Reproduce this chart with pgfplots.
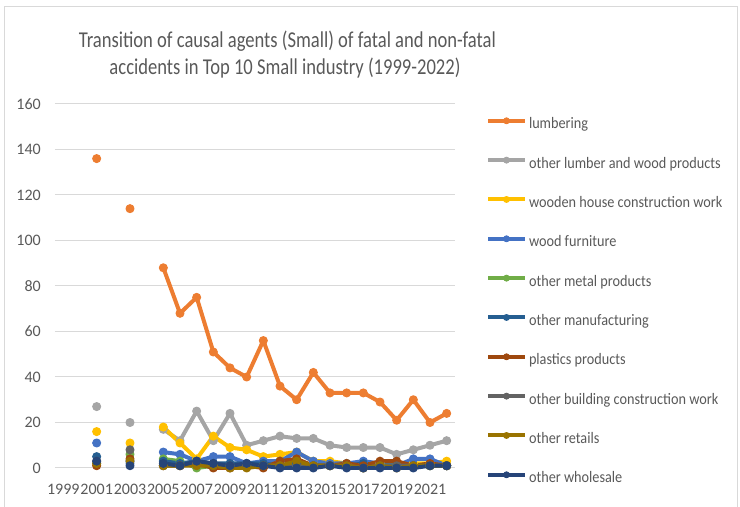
\documentclass[border=0pt]{standalone}
\usepackage{fontspec}
\setmainfont{Carlito}
\newfontfamily\titlefont{Carlito}[FakeStretch=0.82]
\newfontfamily\legfont{Carlito}[FakeStretch=0.89]
\usepackage{pgfplots}
\usepackage{pgfplotstable}
\pgfplotsset{compat=1.18}
\definecolor{c1}{HTML}{ED7D31}
\definecolor{c2}{HTML}{A5A5A5}
\definecolor{c3}{HTML}{FFC000}
\definecolor{c4}{HTML}{4472C4}
\definecolor{c5}{HTML}{70AD47}
\definecolor{c6}{HTML}{255E91}
\definecolor{c7}{HTML}{9E480E}
\definecolor{c8}{HTML}{636363}
\definecolor{c9}{HTML}{997300}
\definecolor{c10}{HTML}{264478}
\definecolor{txt}{HTML}{595959}
\definecolor{grd}{HTML}{D9D9D9}
\pgfplotstableread{
year lum olw wh wf om oman pl ob ore ow
2001 136 27 16 11 2 5 1 3 2 3
2002 nan nan nan nan nan nan nan nan nan nan
2003 114 20 11 2 6 3 4 8 3 1
2004 nan nan nan nan nan nan nan nan nan nan
2005 88 17 18 7 4 3 1 1 1 2
2006 68 12 11 6 3 2 1 1 1 1
2007 75 25 4 3 0 3 2 2 1 3
2008 51 12 14 5 1 2 0 1 1 2
2009 44 24 9 5 1 2 0 1 0 1
2010 40 10 8 2 1 2 1 1 0 2
2011 56 12 5 3 1 2 0 1 1 1
2012 36 14 6 3 1 1 3 1 1 0
2013 30 13 7 7 1 2 4 1 3 0
2014 42 13 3 3 1 1 1 1 1 0
2015 33 10 3 2 1 1 1 1 1 1
2016 33 9 2 2 1 1 2 1 1 0
2017 33 9 2 3 1 2 1 0 0 0
2018 29 9 2 2 1 1 3 1 1 0
2019 21 6 1 1 1 1 3 1 0 0
2020 30 8 2 4 1 1 1 1 1 0
2021 20 10 2 4 1 1 2 1 1 1
2022 24 12 3 1 1 1 1 1 1 1
}\data
\begin{document}
\begin{tikzpicture}
\useasboundingbox (0,0) rectangle (555pt,380.25pt);
\draw[grd, line width=0.75pt] (3pt,-20pt) rectangle (552.75pt,375pt);
\node[anchor=base, text=txt, font=\titlefont\fontsize{17}{20}\selectfont, inner sep=0pt] at (215.6pt,344.25pt) {Transition of causal agents (Small) of fatal and non-fatal};
\node[anchor=base, text=txt, font=\titlefont\fontsize{17}{20}\selectfont, inner sep=0pt] at (213.75pt,324pt) {accidents in Top 10 Small industry (1999-2022)};
\begin{axis}[
  at={(41.25pt,29.25pt)}, anchor=south west,
  scale only axis, width=300pt, height=273pt,
  xmin=1998.5, xmax=2022.5, ymin=0, ymax=160,
  xtick={1999,2001,2003,2005,2007,2009,2011,2013,2015,2017,2019,2021},
  xticklabels={1999,2001,2003,2005,2007,2009,2011,2013,2015,2017,2019,2021},
  ytick={0,20,40,60,80,100,120,140,160},
  /pgf/number format/assume math mode=true,
  axis line style={draw=none},
  major tick length=0pt,
  ymajorgrids, grid style={grd, line width=0.75pt},
  yticklabel style={font=\fontsize{12}{14}\selectfont, text=txt, anchor=east, inner sep=0pt, xshift=-10.5pt},
  xticklabel style={font=\fontsize{12}{14}\selectfont, text=txt, anchor=north, inner sep=0pt, yshift=-12pt},
  clip=false,
  unbounded coords=jump,
  every axis plot/.append style={line width=3pt, mark=*, mark size=3pt, line join=round, mark options={line width=0.75pt, solid}},
  legend cell align=left,
  legend style={at={(rel axis cs:1.0775,0.963)}, anchor=north west, draw=none, fill=none, inner sep=0pt, outer sep=0pt,
    font=\legfont\fontsize{12}{14}\selectfont, text=txt, row sep=18.5pt,
    nodes={inner sep=0pt, text height=8.5pt, text depth=2.5pt},
    /tikz/every odd column/.style={column sep=1.5pt}},
  legend image code/.code={\draw[mark repeat=2,mark phase=2,#1,mark size=2.2pt] plot coordinates {(0pt,3pt) (13.875pt,3pt) (27.75pt,3pt)};},
]
\addplot[c1] table[x=year,y=lum]{\data};
\addlegendentry{lumbering}
\addplot[c2] table[x=year,y=olw]{\data};
\addlegendentry{other lumber and wood products}
\addplot[c3] table[x=year,y=wh]{\data};
\addlegendentry{wooden house construction work}
\addplot[c4] table[x=year,y=wf]{\data};
\addlegendentry{wood furniture}
\addplot[c5] table[x=year,y=om]{\data};
\addlegendentry{other metal products}
\addplot[c6] table[x=year,y=oman]{\data};
\addlegendentry{other manufacturing}
\addplot[c7] table[x=year,y=pl]{\data};
\addlegendentry{plastics products}
\addplot[c8] table[x=year,y=ob]{\data};
\addlegendentry{other building construction work}
\addplot[c9] table[x=year,y=ore]{\data};
\addlegendentry{other retails}
\addplot[c10] table[x=year,y=ow]{\data};
\addlegendentry{other wholesale}
\end{axis}
\end{tikzpicture}
\end{document}
